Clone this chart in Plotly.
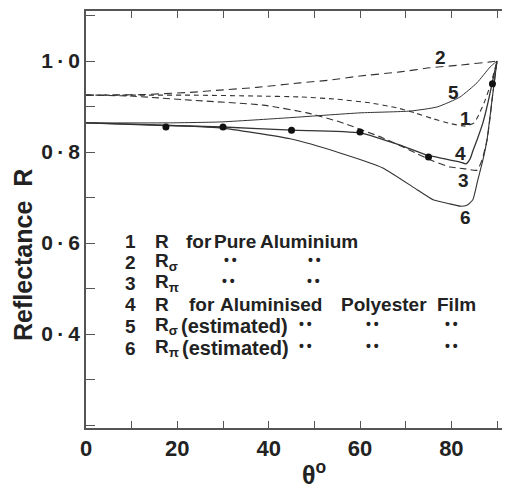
import plotly.graph_objects as go

# ---------------- data ----------------
theta_1 = [0, 9.6, 22.8, 37.4, 46.9, 54.9, 62.2, 68.1, 72.0, 76.0, 80.0, 83.0, 85.0, 86.1, 87.4, 88.7, 90]
R_1 = [0.925, 0.925, 0.925, 0.923, 0.921, 0.916, 0.908, 0.897, 0.886, 0.873, 0.862, 0.857, 0.864, 0.884, 0.914, 0.952, 1.0]

theta_2 = [0, 11.8, 22.8, 29.3, 37.4, 46.9, 53.4, 60.0, 68.8, 75.3, 81.9, 88.5, 90]
R_2 = [0.925, 0.926, 0.931, 0.936, 0.942, 0.952, 0.958, 0.967, 0.976, 0.985, 0.991, 0.998, 1.0]

theta_3 = [0, 9.6, 22.8, 38.8, 48.4, 55.6, 65.0, 70.9, 76.0, 79.7, 83.0, 85.6, 86.7, 87.8, 88.5, 88.9, 90]
R_3 = [0.925, 0.923, 0.914, 0.903, 0.886, 0.866, 0.831, 0.804, 0.780, 0.767, 0.763, 0.760, 0.782, 0.826, 0.877, 0.914, 1.0]

theta_4 = [0, 17.5, 30.0, 45.1, 60.0, 68.8, 74.7, 78.6, 81.9, 83.2, 84.1, 84.7, 85.6, 86.9, 88.0, 88.9, 90]
R_4 = [0.864, 0.858, 0.855, 0.848, 0.842, 0.815, 0.793, 0.785, 0.778, 0.774, 0.785, 0.802, 0.826, 0.864, 0.908, 0.950, 1.0]

theta_5 = [0, 17.5, 29.3, 44.0, 60.0, 71.0, 76.9, 81.9, 85.6, 88.5, 90]
R_5 = [0.864, 0.864, 0.866, 0.875, 0.886, 0.890, 0.899, 0.921, 0.952, 0.987, 1.0]

theta_6 = [0, 17.5, 29.3, 44.7, 55.6, 65.0, 72.5, 76.0, 79.7, 81.9, 83.4, 84.7, 85.8, 86.9, 87.8, 88.9, 90]
R_6 = [0.864, 0.859, 0.853, 0.829, 0.798, 0.765, 0.717, 0.695, 0.686, 0.681, 0.683, 0.695, 0.739, 0.782, 0.826, 0.914, 1.0]

theta_meas = [17.5, 30, 45, 60, 75, 89]
R_meas = [0.855, 0.855, 0.848, 0.844, 0.789, 0.950]

x_tickvals = [0, 20, 40, 60, 80]
x_ticktext = ["0", "20", "40", "60", "80"]
y_tickvals = [0.4, 0.6, 0.8, 1.0]
y_ticktext = ["0\u2009·\u20094", "0\u2009·\u20096", "0\u2009·\u20098", "1\u2009·\u20090"]

curve_labels = ["1", "2", "3", "4", "5", "6"]

# ---------------- layout geometry ----------------
OFF = 8                      # page body margin of the browser
WIN_W, WIN_H = 510, 487
W, H = WIN_W - OFF, WIN_H - OFF
AX_L, AX_T, AX_B = 86, 11, 428   # plot area edges in window pixels
L, T, B, R_ = AX_L - OFF, AX_T - OFF, WIN_H - AX_B, 0
PW, PH = WIN_W - AX_L, AX_B - AX_T
XMAX = PW / 4.567
Y0, Y1 = 1 - (AX_B - 61) / 455, 1 + (61 - AX_T) / 455

def px2x(px):
    return (px - AX_L) / 4.567

def py2y(py):
    return 1 - (py - 61) / 455

FONT = "Liberation Sans, Arial, Helvetica, sans-serif"
INK = "#222222"
LINE = "#333333"

fig = go.Figure()

styles = [
    (theta_1, R_1, "5px,4px", 1.1),
    (theta_2, R_2, "8px,5px", 1.1),
    (theta_3, R_3, "7px,4px", 1.1),
    (theta_4, R_4, "solid", 1.3),
    (theta_5, R_5, "solid", 1.0),
    (theta_6, R_6, "solid", 1.1),
]
for (xs, ys, dash, w), name in zip(styles, curve_labels):
    fig.add_trace(go.Scatter(
        x=xs, y=ys, mode="lines", name=name,
        line=dict(color=LINE, width=w, dash=dash, shape="spline", smoothing=0.5),
        showlegend=False, hoverinfo="skip"))

fig.add_trace(go.Scatter(
    x=theta_meas, y=R_meas, mode="markers",
    marker=dict(color="#111111", size=7),
    showlegend=False, hoverinfo="skip"))

ann = []

def text(px, py, s, size=19, anchor="left"):
    ann.append(dict(x=px2x(px), y=py2y(py), xref="x", yref="y", text=s,
                    showarrow=False, xanchor=anchor, yanchor="middle",
                    font=dict(family=FONT, size=size, color=INK, weight="bold")))

# curve number labels
for lab, (px, py) in zip(curve_labels,
                         [(465, 118), (440, 57), (463, 180), (460, 153), (453, 92), (465, 217)]):
    text(px, py, lab, size=19, anchor="center")

# key block
rows = [241, 262, 283, 304, 326, 348]
for i, py in enumerate(rows):
    text(130, py, curve_labels[i], anchor="center")

DIT = "•\u2009•"
text(153, rows[0], "R")
text(184, rows[0], "for")
text(212, rows[0], "Pure")
text(258, rows[0], "Aluminium")

text(153, rows[1], "R<sub>σ</sub>")
text(230, rows[1] - 2, DIT, size=14, anchor="center")
text(314, rows[1] - 2, DIT, size=14, anchor="center")

text(153, rows[2], "R<sub>π</sub>")
text(228, rows[2] - 2, DIT, size=14, anchor="center")
text(313, rows[2] - 2, DIT, size=14, anchor="center")

text(153, rows[3], "R")
text(187, rows[3], "for")
text(218, rows[3], "Aluminised")
text(339, rows[3], "Polyester")
text(435, rows[3], "Film")

text(153, rows[4], "R<sub>σ</sub>")
text(179, rows[4], "(estimated)", size=20)
text(153, rows[5], "R<sub>π</sub>")
text(180, rows[5], "(estimated)", size=20)
for py in rows[4:]:
    for cx in (305, 372, 451):
        text(cx, py - 2, DIT, size=14, anchor="center")

# axis titles
ann.append(dict(x=(23 - AX_L) / PW, y=(AX_B - 255) / PH, xref="paper", yref="paper",
                text="Reflectance\u00a0\u00a0R", textangle=-90, showarrow=False,
                xanchor="center", yanchor="middle",
                font=dict(family=FONT, size=25, color=INK, weight="bold")))
ann.append(dict(x=(314 - AX_L) / PW, y=(AX_B - 473) / PH, xref="paper", yref="paper",
                text="θ<sup>o</sup>", showarrow=False, xanchor="center", yanchor="middle",
                font=dict(family=FONT, size=25, color=INK, weight="bold")))

axis_common = dict(ticks="inside", tickwidth=1.2, tickcolor="#555",
                   showline=True, linecolor="#555", linewidth=1.5,
                   showgrid=False, zeroline=False, automargin=False)

fig.update_layout(
    width=W, height=H,
    margin=dict(l=L, r=R_, t=T, b=B, pad=0, autoexpand=False),
    paper_bgcolor="white", plot_bgcolor="white",
    annotations=ann,
    xaxis=dict(range=[0, XMAX], tickvals=x_tickvals, ticktext=x_ticktext, ticklen=7,
               mirror="ticks",
               tickfont=dict(family=FONT, size=22, color=INK, weight="bold"),
               minor=dict(ticks="inside", dtick=10, tick0=0, ticklen=7, tickwidth=1.2,
                          tickcolor="#555", showgrid=False),
               **axis_common),
    yaxis=dict(range=[Y0, Y1], tickvals=y_tickvals, ticktext=y_ticktext, ticklen=9,
               mirror=False,
               tickfont=dict(family=FONT, size=21, color=INK, weight="bold"),
               minor=dict(ticks="inside", dtick=0.1, tick0=0, ticklen=9, tickwidth=1.2,
                          tickcolor="#555", showgrid=False),
               **axis_common),
)

fig.write_html("out.html")
